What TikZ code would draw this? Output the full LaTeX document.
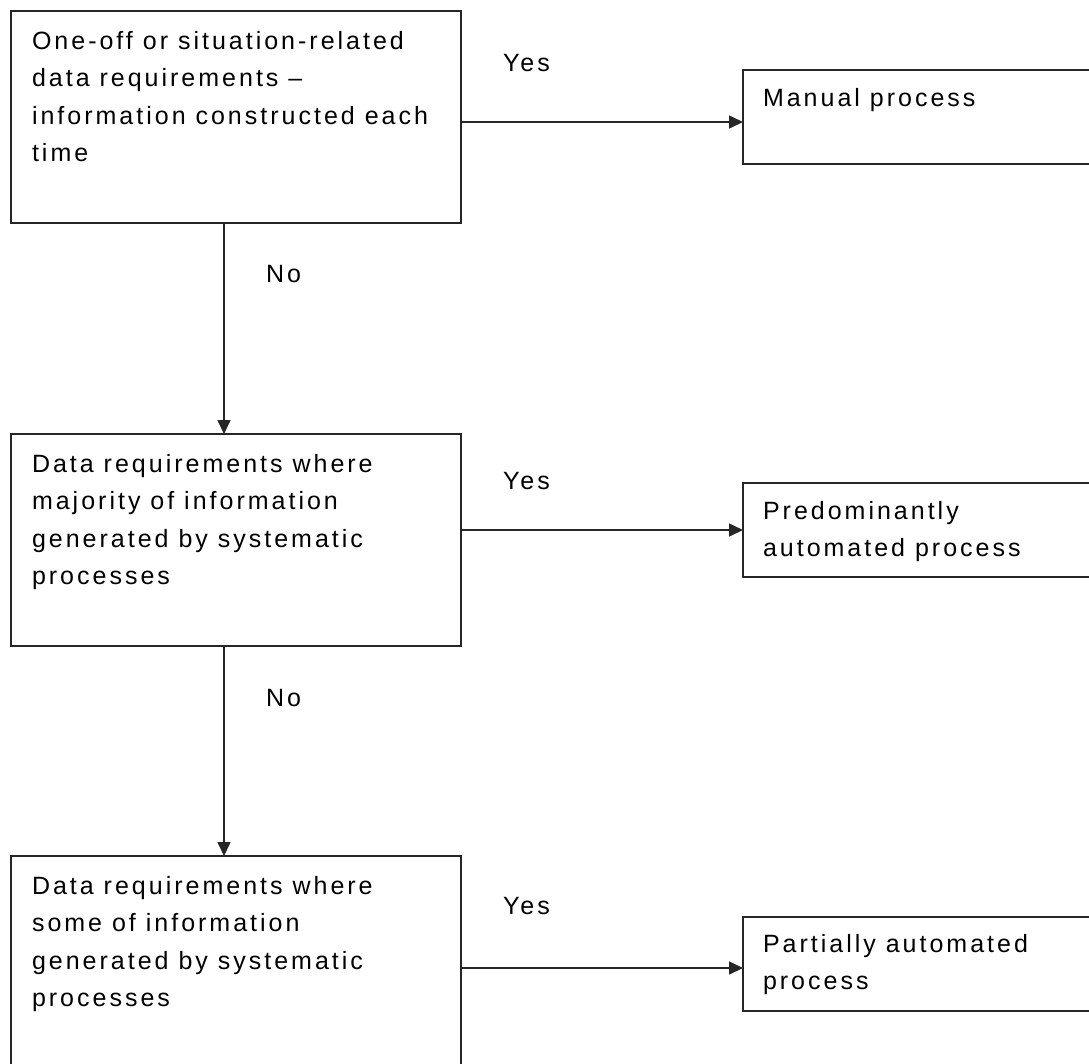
\documentclass[tikz,border=0pt]{standalone}
\usepackage{fontspec}
\setmainfont{Liberation Sans}[LetterSpace=12]
\usetikzlibrary{arrows.meta}

\begin{document}
\begin{tikzpicture}[x=1pt, y=-1pt,
  font=\fontsize{25}{37.5}\selectfont,
  box/.style={draw=black!85, line width=1.8pt, rectangle, inner sep=0pt,
              outer sep=0pt, anchor=north west},
  leftbox/.style={box, minimum width=450pt, minimum height=212pt},
  rightbox/.style={box, minimum width=380pt, minimum height=94pt},
  txt/.style={inner sep=0pt, outer sep=0pt, align=left, anchor=north west},
  lbl/.style={inner sep=0pt, outer sep=0pt, anchor=base west},
  flow/.style={draw=black!85, line width=1.6pt,
               -{Triangle[length=14pt, width=13pt]}}]

  \useasboundingbox (0,0) rectangle (1089,1063);
  \clip (0,0) rectangle (1089,1063);

  % decision boxes on the left
  \node[leftbox] (q1) at (11,11) {};
  \node[leftbox] (q2) at (11,434) {};
  \node[leftbox] (q3) at (11,856) {};

  % outcome boxes on the right
  \node[rightbox] (r1) at (743,70) {};
  \node[rightbox] (r2) at (743,483) {};
  \node[rightbox] (r3) at (743,917) {};

  % box texts
  \node[txt] (tq1) at (32,31) {One-off or situation-related\\data requirements –\\information constructed each\\time};
  \node[txt] (tq2) at (32,454) {Data requirements where\\majority of information\\generated by systematic\\processes};
  \node[txt] (tq3) at (32,876) {Data requirements where\\some of information\\generated by systematic\\processes};
  \node[txt] (tr1) at (763,88) {Manual process};
  \node[txt] (tr2) at (763,501) {Predominantly\\automated process};
  \node[txt] (tr3) at (763,934) {Partially automated\\process};

  % heights of the Yes arrows and position of the No arrows
  \coordinate (h1) at (0,122);
  \coordinate (h2) at (0,530);
  \coordinate (h3) at (0,968);
  \coordinate (v) at (224,0);

  % Yes branches
  \draw[flow] (q1.east |- h1) -- (r1.west |- h1);
  \draw[flow] (q2.east |- h2) -- (r2.west |- h2);
  \draw[flow] (q3.east |- h3) -- (r3.west |- h3);

  % No branches
  \draw[flow] (q1.south -| v) -- (q2.north -| v);
  \draw[flow] (q2.south -| v) -- (q3.north -| v);

  % branch labels
  \node[lbl] (y1) at (503,71) {Yes};
  \node[lbl] (y2) at (503,489) {Yes};
  \node[lbl] (y3) at (503,914) {Yes};
  \node[lbl] (n1) at (266,282) {No};
  \node[lbl] (n2) at (266,706) {No};
\end{tikzpicture}
\end{document}
